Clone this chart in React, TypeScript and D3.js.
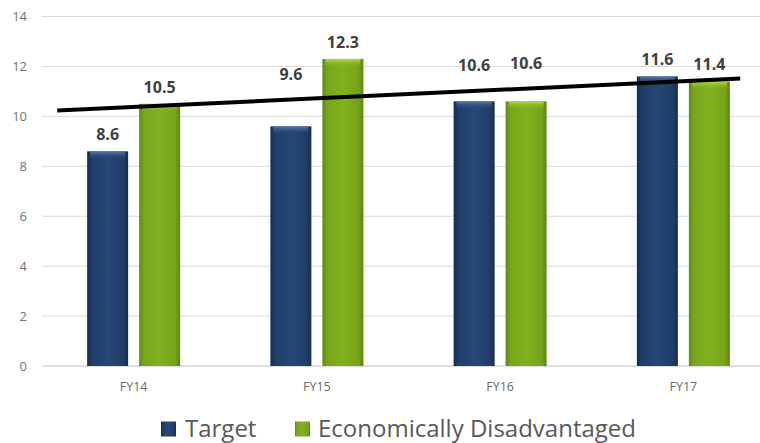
import React from "react";
import * as d3 from "d3";

const categories = ["FY14", "FY15", "FY16", "FY17"];
const targetValues = [8.6, 9.6, 10.6, 11.6];
const econValues = [10.5, 12.3, 10.6, 11.4];
const yTicks = [0, 2, 4, 6, 8, 10, 12, 14];
const trendIndex = [-0.417, 3.31];
const trendValues = [10.237, 11.515];
const seriesNames = ["Target", "Economically Disadvantaged"];

const W = 760;
const H = 443;
const FONT = "'Open Sans', 'Noto Sans', sans-serif";

export default function App() {
  const y = d3.scaleLinear().domain([0, 14]).range([366, 16.5]);
  const x = d3.scaleBand().domain(categories).range([42, 775]).paddingInner(0).paddingOuter(0);
  const bw = 41;
  const gap = 11;
  const center = (c: string) => (x(c) as number) + x.bandwidth() / 2;
  const idxX = d3.scaleLinear().domain([0, 3]).range([center(categories[0]), center(categories[3])]);
  const trendScale = d3.scaleLinear().domain(trendIndex).range(trendValues);
  const trendYAt = (px: number) => y(trendScale(idxX.invert(px)));
  const trendLine = d3
    .line<number>()
    .x((_, i) => idxX(trendIndex[i]))
    .y((v) => y(v));

  const series = [
    { name: seriesNames[0], values: targetValues, grad: "gNavy", top: "tNavy", dx: -(gap / 2 + bw) },
    { name: seriesNames[1], values: econValues, grad: "gGreen", top: "tGreen", dx: gap / 2 },
  ];

  return (
    <svg width={W} height={H} style={{ position: "absolute", left: 0, top: 0, background: "#fff" }}>
      <defs>
        <linearGradient id="gNavy" x1="0" x2="1" y1="0" y2="0">
          <stop offset="0" stopColor="#172d50" />
          <stop offset="0.12" stopColor="#1f3d68" />
          <stop offset="0.5" stopColor="#264876" />
          <stop offset="0.88" stopColor="#1f3d68" />
          <stop offset="1" stopColor="#172d50" />
        </linearGradient>
        <linearGradient id="gGreen" x1="0" x2="1" y1="0" y2="0">
          <stop offset="0" stopColor="#5e8a12" />
          <stop offset="0.12" stopColor="#78a61a" />
          <stop offset="0.5" stopColor="#82b11f" />
          <stop offset="0.88" stopColor="#76a31a" />
          <stop offset="1" stopColor="#5b8510" />
        </linearGradient>
        <linearGradient id="tNavy" x1="0" x2="0" y1="0" y2="1">
          <stop offset="0" stopColor="#5a7aa6" />
          <stop offset="1" stopColor="#264876" stopOpacity="0" />
        </linearGradient>
        <linearGradient id="tGreen" x1="0" x2="0" y1="0" y2="1">
          <stop offset="0" stopColor="#b6d84a" />
          <stop offset="1" stopColor="#82b11f" stopOpacity="0" />
        </linearGradient>
      </defs>

      {yTicks.map((t) => (
        <g key={t}>
          <line x1={42} x2={W} y1={y(t)} y2={y(t)} stroke={t === 0 ? "#bfbfbf" : "#d9d9d9"} strokeWidth={1} />
          <text x={27} y={y(t)} dy="0.35em" textAnchor="end" fontFamily={FONT} fontSize={13} fill="#737373">
            {t}
          </text>
        </g>
      ))}

      {series.map((s) =>
        categories.map((c, i) => {
          const bx = center(c) + s.dx;
          const by = y(s.values[i]);
          const bh = y(0) - by;
          return (
            <g key={s.name + c}>
              <rect x={bx} y={by} width={bw} height={bh} fill={`url(#${s.grad})`} />
              <rect x={bx + 3} y={by} width={bw - 6} height={Math.min(8, bh)} fill={`url(#${s.top})`} />
            </g>
          );
        })
      )}

      <path d={trendLine(trendValues) as string} stroke="#000" strokeWidth={4} fill="none" />

      {series.map((s) =>
        categories.map((c, i) => {
          const bx = center(c) + s.dx;
          const by = y(s.values[i]);
          const lx = bx + bw / 2;
          const ty = trendYAt(lx);
          let ly = by - 11;
          if (ty >= ly - 18 && ty <= ly + 3) ly = ty - 20;
          return (
            <text
              key={"l" + s.name + c}
              x={lx}
              y={ly}
              textAnchor="middle"
              fontFamily={FONT}
              fontWeight={700}
              fontSize={16}
              fill="#404040"
            >
              {s.values[i].toFixed(1)}
            </text>
          );
        })
      )}

      {categories.map((c) => (
        <text key={c} x={center(c)} y={391} textAnchor="middle" fontFamily={FONT} fontSize={12.5} fill="#6b6b6b">
          {c}
        </text>
      ))}

      <g>
        <rect x={161} y={421.5} width={15} height={15} fill="url(#gNavy)" />
        <text x={185} y={437} fontFamily={FONT} fontSize={24} fill="#595959">
          {seriesNames[0]}
        </text>
        <rect x={295} y={421.5} width={15} height={15} fill="url(#gGreen)" />
        <text x={318} y={437} fontFamily={FONT} fontSize={24} fill="#595959">
          {seriesNames[1]}
        </text>
      </g>
    </svg>
  );
}
